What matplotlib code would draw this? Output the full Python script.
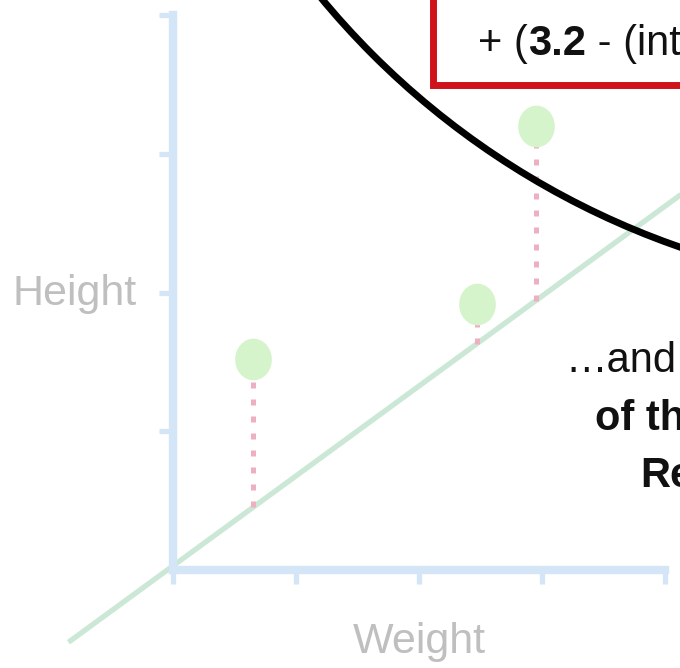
import numpy as np
import matplotlib
matplotlib.use("Agg")
import matplotlib.pyplot as plt
from matplotlib.path import Path
from matplotlib.patches import Circle, Rectangle
from matplotlib.transforms import IdentityTransform

plt.rcParams["font.family"] = ["Liberation Sans", "DejaVu Sans"]

# --- data ---------------------------------------------------------------
weight = [0.65, 2.47, 2.95]
height = [1.52, 1.92, 3.20]
slope = 0.648
intercept = 0.03
line_x = [-0.85, 4.4]
x_ticks = [0, 1, 2, 3, 4]
y_ticks = [1, 2, 3, 4]
x_label = "Weight"
y_label = "Height"
formula_parts = [("+ (", "normal"), ("3.2", "bold"),
                 (" - (int", "normal")]
caption_lines = [("…and", "normal"),
                 ("of th", "bold"),
                 ("Re", "bold")]

# --- styling ------------------------------------------------------------
W, H, DPI = 680, 668, 100
axis_col = "#d3e5f7"
point_col = "#d6f4cb"
fit_col = "#cbe7d6"
resid_col = "#eeb0c0"
label_col = "#bfbfbf"
red = "#d0121b"

fig = plt.figure(figsize=(W / DPI, H / DPI), dpi=DPI)
fig.patch.set_facecolor("white")

def fx(px):
    return px / W

def fy(py):
    return 1 - py / H

ax = fig.add_axes([fx(173), fy(570), fx(665) - fx(173), fy(15) - fy(570)])
ax.set_xlim(0, 4)
ax.set_ylim(0, 4)
ax.set_facecolor("none")
for side in ("top", "right"):
    ax.spines[side].set_visible(False)
for side in ("left", "bottom"):
    ax.spines[side].set_color(axis_col)
    ax.spines[side].set_linewidth(6)
    ax.spines[side].set_capstyle("projecting")
ax.set_xticks(x_ticks)
ax.set_yticks(y_ticks)
ax.tick_params(direction="out", length=10, width=3.8, color=axis_col,
               labelbottom=False, labelleft=False)

# fitted line
lx = np.array(line_x)
ax.plot(lx, intercept + slope * lx, color=fit_col, lw=3.8,
        solid_capstyle="butt", clip_on=False, zorder=2)

# residuals
for xw, yh in zip(weight, height):
    ax.plot([xw, xw], [intercept + slope * xw, yh], color=resid_col, lw=3.6,
            dashes=(1.2, 2.2), clip_on=False, zorder=3)

# data points (slightly tall ellipses)
uc = Path.unit_circle()
oval = Path(uc.vertices * np.array([0.88, 1.0]), uc.codes)
ax.plot(weight, height, linestyle="none", marker=oval, markersize=30,
        markerfacecolor=point_col, markeredgecolor="none", clip_on=False,
        zorder=4)

# axis labels
fig.text(fx(137), fy(305), y_label, ha="right", va="baseline",
         fontsize=31, color=label_col)
fig.text(fx(419), fy(653), x_label, ha="center", va="baseline",
         fontsize=31, color=label_col)

# magnifier circle and boxed formula
fig.add_artist(Rectangle((433, H - 84.5), 500, 200, transform=IdentityTransform(),
                         facecolor="white", edgecolor=red, lw=5, zorder=5))
fig.add_artist(Circle((946, H + 519), 811, transform=IdentityTransform(),
                      fill=False, edgecolor="black", lw=5, zorder=6))

fig.canvas.draw()
renderer = fig.canvas.get_renderer()
x0 = 478
for txt, wgt in formula_parts:
    t = fig.text(fx(x0), fy(55), txt, ha="left", va="baseline", fontsize=30,
                 fontweight=wgt, color="#111111", zorder=7)
    x0 += t.get_window_extent(renderer).width

cap_pos = [(565, 372), (595, 430), (640, 487)]
for (txt, wgt), (px, py) in zip(caption_lines, cap_pos):
    fig.text(fx(px), fy(py), txt, ha="left", va="baseline", fontsize=30,
             fontweight=wgt, color="#111111", zorder=7)

fig.savefig("out.png", dpi=DPI)
